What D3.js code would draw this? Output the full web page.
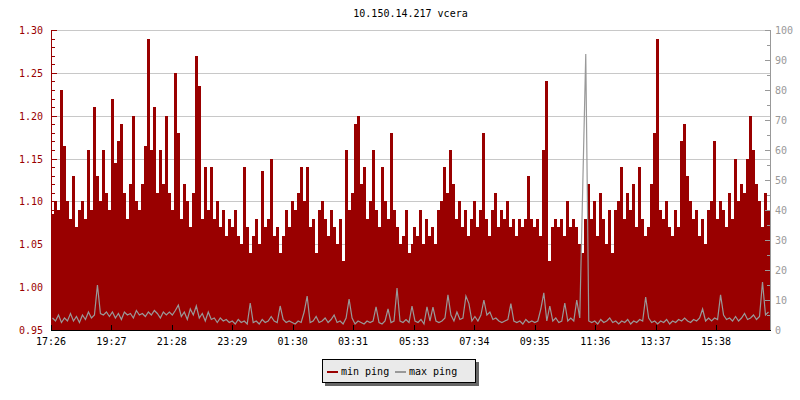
<!DOCTYPE html>
<html>
<head>
<meta charset="utf-8">
<script src="https://cdn.jsdelivr.net/npm/d3@7"></script>
<style>
  html, body { margin: 0; padding: 0; background: #fff; }
  svg { display: block; }
  text { font-family: "DejaVu Sans Mono", "Liberation Mono", monospace; font-size: 10px; }
</style>
</head>
<body>
<div id="chart"></div>
<script>
// ---------------- DATA ----------------
const chartTitle = "10.150.14.217 vcera";
const seriesNames = ["min ping", "max ping"];
const startLabel = "17:26";
const spanMinutes = 1440;     // time covered by the chart
const stepMinutes = 6;        // sampling step of the arrays below
const xTickLabels = ["17:26","19:27","21:28","23:29","01:30","03:31","05:33","07:34","09:35","11:36","13:37","15:38"];
const leftTicks = [0.95, 1.00, 1.05, 1.10, 1.15, 1.20, 1.25, 1.30];
const rightTicks = [0, 10, 20, 30, 40, 50, 60, 70, 80, 90, 100];

// min ping (left axis)
const minPing = [
  1.085,1.10,1.09,1.23,1.165,1.10,1.08,1.13,1.07,1.09,
  1.10,1.08,1.16,1.09,1.21,1.13,1.10,1.16,1.11,1.09,
  1.22,1.145,1.17,1.19,1.11,1.08,1.12,1.20,1.10,1.09,
  1.12,1.165,1.29,1.16,1.21,1.11,1.16,1.12,1.20,1.11,
  1.09,1.25,1.18,1.08,1.12,1.10,1.07,1.11,1.27,1.235,
  1.08,1.14,1.09,1.14,1.08,1.10,1.07,1.09,1.06,1.08,
  1.07,1.09,1.06,1.05,1.14,1.07,1.04,1.06,1.08,1.05,
  1.135,1.07,1.08,1.15,1.06,1.07,1.04,1.06,1.09,1.07,
  1.10,1.09,1.11,1.14,1.10,1.14,1.07,1.08,1.04,1.09,
  1.10,1.08,1.06,1.09,1.07,1.05,1.08,1.03,1.16,1.09,
  1.11,1.19,1.20,1.12,1.14,1.08,1.10,1.16,1.09,1.07,
  1.14,1.10,1.08,1.18,1.09,1.07,1.05,1.06,1.09,1.04,
  1.05,1.07,1.06,1.09,1.05,1.08,1.06,1.07,1.05,1.09,
  1.10,1.14,1.11,1.16,1.12,1.08,1.10,1.07,1.09,1.06,
  1.08,1.10,1.07,1.09,1.18,1.08,1.06,1.09,1.11,1.07,
  1.09,1.08,1.10,1.07,1.08,1.06,1.08,1.07,1.08,1.13,
  1.08,1.07,1.08,1.06,1.16,1.24,1.03,1.07,1.08,1.07,
  1.08,1.06,1.10,1.07,1.08,1.07,1.05,1.04,1.08,1.12,
  1.08,1.10,1.06,1.11,1.08,1.05,1.09,1.04,1.09,1.10,
  1.14,1.08,1.11,1.09,1.12,1.07,1.14,1.08,1.06,1.07,
  1.12,1.18,1.29,1.09,1.08,1.10,1.07,1.06,1.09,1.07,
  1.17,1.19,1.13,1.10,1.08,1.09,1.06,1.08,1.05,1.09,
  1.10,1.17,1.08,1.10,1.09,1.07,1.11,1.08,1.15,1.10,
  1.12,1.11,1.15,1.20,1.16,1.12,1.10,1.07,1.11,1.09
];

// max ping (right axis)
const maxPing = [
  4,3,5,2.5,4,3,5.5,3,4.5,2.5,
  5,3.5,6,4,5,15,5.5,5,6,4.5,
  6,4,5.5,3.5,6,5,5.5,4,6.5,5,
  5.5,4.5,6,5,6.5,5.5,4,6,5,6,
  5,6.5,8.3,4.5,6,3.5,7,5,8,4,
  5.5,3,6,3.5,4,2.5,4,3,3.5,2.5,
  3,2,3.5,2.5,3,2,9,2.5,3,2,
  3.5,2.5,3,4.5,3,2.5,8,3.5,2.5,3,
  2.5,2,3,2.5,6,11.3,2.5,3,4.5,2.5,
  3,4,2.5,3.5,5,2.5,3,2,4,10.3,
  4,2,3,2.5,2,3,2.5,3,7.7,2.5,
  2,3,7,2.5,3,14,3,2.5,3.5,2.5,
  8,3,2.5,3.5,2,7.7,3,7.6,3,2.5,
  3,4,11.7,5,3,6,3.5,4,11.3,8.8,
  3,4.5,3,5,10,5,6,3.5,4,3,
  2.5,3,3.5,8.8,3,2.5,3,2,3.5,2.5,
  3,2.5,3,7,12.4,3,8,3,4,2.5,
  3,9,3,4,3,10,4,48,92,3,
  2.5,3,2,3.5,2.5,3,4,2.5,3,2,
  3,2.5,3.5,2,3,2.5,3.5,3,11,4,
  2.5,3,2,3,2.5,3.5,2,3,2.5,3.5,
  3,4,3,2.5,3.5,3,4,7,3,4,
  3,4,3.5,11.7,5,3.5,4,3,4.5,3,
  4,5.5,3.5,4,5,3.5,4.5,16,5,6
];

// ---------------- DRAW ----------------
const W = 800, H = 400;
const plot = { left: 51, right: 770, top: 30, bottom: 330 };
const RED = "#990000", GRAY = "#999999", GRID = "#c8c8c8";

const svg = d3.select("#chart").append("svg").attr("width", W).attr("height", H);

const x = d3.scaleLinear().domain([0, spanMinutes]).range([plot.left, plot.right]);
const yL = d3.scaleLinear().domain([leftTicks[0], leftTicks[leftTicks.length - 1]]).range([plot.bottom, plot.top]);
const yR = d3.scaleLinear().domain([rightTicks[0], rightTicks[rightTicks.length - 1]]).range([plot.bottom, plot.top]);

function toMin(s) { const [h, m] = s.split(":").map(Number); return h * 60 + m; }
const start = toMin(startLabel);
const tickMin = xTickLabels.map(l => ((toMin(l) - start) % 1440 + 1440) % 1440);

// grid
svg.append("g").selectAll("line").data(leftTicks.slice(1)).join("line")
  .attr("x1", plot.left).attr("x2", plot.right)
  .attr("y1", d => Math.round(yL(d)) + 0.5).attr("y2", d => Math.round(yL(d)) + 0.5)
  .attr("stroke", GRID).attr("stroke-width", 1);

// min ping area (step)
const minPts = minPing.map((v, i) => ({ t: i * stepMinutes, v }));
minPts.push({ t: minPing.length * stepMinutes, v: minPing[minPing.length - 1] });
svg.append("path").datum(minPts)
  .attr("d", d3.area().curve(d3.curveStepAfter)
    .x(d => x(Math.min(d.t, spanMinutes))).y0(yL.range()[0]).y1(d => yL(d.v)))
  .attr("fill", RED).attr("shape-rendering", "crispEdges");

// max ping line
const maxPts = maxPing.map((v, i) => ({ t: (i + 0.5) * stepMinutes, v }));
svg.append("path").datum(maxPts)
  .attr("d", d3.line()
    .x(d => x(d.t)).y(d => yR(d.v)))
  .attr("fill", "none").attr("stroke", GRAY).attr("stroke-width", 1.2);

// left axis
const gL = svg.append("g");
gL.append("line").attr("x1", plot.left + 0.5).attr("x2", plot.left + 0.5)
  .attr("y1", plot.top).attr("y2", plot.bottom + 1).attr("stroke", RED);
const lMinor = d3.range(Math.round(leftTicks[0] * 100), Math.round(leftTicks[leftTicks.length - 1] * 100) + 1).map(v => v / 100);
gL.selectAll("line.t").data(lMinor).join("line").attr("class", "t")
  .attr("x1", plot.left).attr("x2", d => plot.left + (Math.round(d * 100) % 5 === 0 ? 6 : 4))
  .attr("y1", d => Math.round(yL(d)) + 0.5).attr("y2", d => Math.round(yL(d)) + 0.5)
  .attr("stroke", RED);
gL.selectAll("text").data(leftTicks).join("text")
  .attr("x", plot.left - 8).attr("y", d => yL(d) + 4)
  .attr("text-anchor", "end").attr("fill", RED).text(d => d3.format(".2f")(d));

// right axis
const gR = svg.append("g");
gR.append("line").attr("x1", plot.right + 0.5).attr("x2", plot.right + 0.5)
  .attr("y1", plot.top).attr("y2", plot.bottom + 1).attr("stroke", GRAY);
const rMinor = d3.range(rightTicks[0], rightTicks[rightTicks.length - 1] + 1, 5);
gR.selectAll("line.t").data(rMinor).join("line").attr("class", "t")
  .attr("x1", d => plot.right - (d % 10 === 0 ? 5 : 3)).attr("x2", plot.right)
  .attr("y1", d => Math.round(yR(d)) + 0.5).attr("y2", d => Math.round(yR(d)) + 0.5)
  .attr("stroke", GRAY);
gR.selectAll("text").data(rightTicks).join("text")
  .attr("x", plot.right + 5).attr("y", d => yR(d) + 4)
  .attr("text-anchor", "start").attr("fill", GRAY).text(d => d);

// x axis
const gX = svg.append("g");
gX.append("line").attr("x1", plot.left).attr("x2", plot.right + 1)
  .attr("y1", plot.bottom + 0.5).attr("y2", plot.bottom + 0.5).attr("stroke", "#000");
gX.selectAll("line.t").data(tickMin).join("line").attr("class", "t")
  .attr("x1", d => Math.round(x(d)) + 0.5).attr("x2", d => Math.round(x(d)) + 0.5)
  .attr("y1", plot.bottom - 5).attr("y2", plot.bottom).attr("stroke", "#000");
gX.selectAll("text").data(xTickLabels).join("text")
  .attr("x", (d, i) => x(tickMin[i])).attr("y", plot.bottom + 15)
  .attr("text-anchor", "middle").attr("fill", "#000").text(d => d);

// title
svg.append("text").attr("x", (plot.left + plot.right) / 2).attr("y", 17)
  .attr("text-anchor", "middle").attr("fill", "#000").text(chartTitle);

// legend
const lg = svg.append("g");
lg.append("rect").attr("x", 325).attr("y", 362).attr("width", 154).attr("height", 24).attr("fill", "#666");
lg.append("rect").attr("x", 322.5).attr("y", 359.5).attr("width", 153).attr("height", 23)
  .attr("fill", "#eaeaea").attr("stroke", "#000");
const legendColors = [RED, GRAY];
const legendX = [327, 395];
seriesNames.forEach((name, i) => {
  lg.append("line").attr("x1", legendX[i]).attr("x2", legendX[i] + 11)
    .attr("y1", 372).attr("y2", 372).attr("stroke", legendColors[i]).attr("stroke-width", 2);
  lg.append("text").attr("x", legendX[i] + 14).attr("y", 375).attr("fill", "#000").text(name);
});
</script>
</body>
</html>
